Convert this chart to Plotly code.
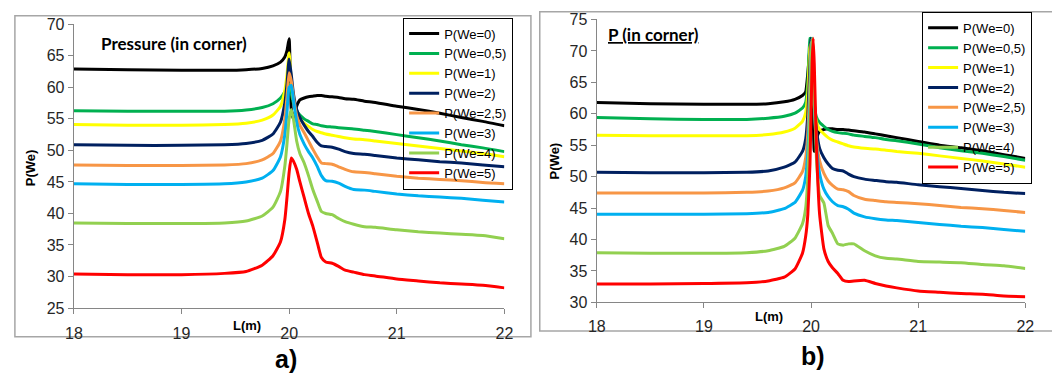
import plotly.graph_objects as go

W, H = 1052, 383

# ---------------- data: panel a) ----------------
L_a = [18.0, 18.5, 19.0, 19.4, 19.6, 19.75, 19.85, 19.92, 19.96, 19.98, 20.0, 20.02, 20.04, 20.07,
       20.1, 20.14, 20.18, 20.22, 20.26, 20.3, 20.34, 20.4, 20.46, 20.52, 20.6, 20.7, 20.8,
       21.0, 21.2, 21.4, 21.6, 21.8, 22.0]
a_we0 = [62.9, 62.8, 62.7, 62.7, 62.8, 63.0, 63.4, 64.0, 64.8, 65.8, 67.7, 56.5, 55.0, 57.0,
         58.0, 58.3, 58.5, 58.6, 58.7, 58.7, 58.6, 58.5, 58.4, 58.2, 58.1, 57.8, 57.6,
         57.0, 56.5, 55.9, 55.2, 54.6, 53.9]
a_we05 = [56.3, 56.2, 56.2, 56.2, 56.4, 56.8, 57.4, 58.3, 59.3, 60.0, 60.5, 59.0, 57.5, 56.3,
          55.6, 55.0, 54.6, 54.2, 54.1, 53.9, 53.8, 53.7, 53.6, 53.5, 53.4, 53.2, 53.0,
          52.5, 52.0, 51.5, 50.9, 50.4, 49.8]
a_we1 = [54.1, 54.0, 54.0, 54.1, 54.3, 54.8, 55.6, 57.0, 59.5, 62.0, 65.5, 61.0, 58.0, 56.0,
         55.0, 54.3, 53.8, 53.3, 53.0, 52.8, 52.6, 52.4, 52.2, 52.0, 51.8, 51.7, 51.5,
         51.1, 50.7, 50.3, 49.9, 49.5, 49.0]
a_we2 = [50.9, 50.8, 50.8, 50.9, 51.1, 51.6, 52.6, 54.5, 57.5, 60.5, 64.5, 62.0, 59.0, 56.5,
         55.2, 54.0, 53.0, 52.2, 51.3, 50.7, 50.6, 50.5, 50.2, 49.8, 49.5, 49.4, 49.2,
         48.8, 48.5, 48.2, 48.0, 47.7, 47.4]
a_we25 = [47.7, 47.6, 47.6, 47.7, 47.9, 48.5, 49.5, 51.5, 55.0, 58.5, 62.3, 61.0, 58.5, 55.5,
          54.0, 52.8, 51.5, 50.2, 49.0, 48.0, 47.9, 47.8, 47.4, 47.0, 46.6, 46.5, 46.3,
          45.9, 45.6, 45.4, 45.2, 44.9, 44.7]
a_we3 = [44.7, 44.6, 44.6, 44.7, 45.0, 45.6, 46.8, 49.0, 52.5, 56.0, 60.0, 60.3, 58.0, 54.5,
         52.5, 51.0, 49.8, 48.8, 47.5, 46.0, 45.2, 45.1, 44.8, 44.3, 43.8, 43.7, 43.5,
         43.1, 42.8, 42.6, 42.4, 42.1, 41.8]
a_we4 = [38.5, 38.4, 38.4, 38.5, 38.8, 39.6, 41.0, 43.5, 47.5, 51.0, 55.0, 56.5, 55.0, 51.5,
         49.5, 48.0, 46.0, 43.8, 42.0, 40.3, 40.0, 39.8, 39.2, 38.7, 38.3, 37.9, 37.8,
         37.4, 37.1, 36.9, 36.7, 36.5, 36.0]
a_we5 = [30.4, 30.3, 30.3, 30.5, 30.8, 31.8, 33.3, 35.5, 39.0, 42.5, 46.5, 48.8, 48.3, 47.0,
         45.0, 42.5, 40.0, 38.0, 35.5, 33.0, 32.3, 32.1, 31.6, 31.0, 30.7, 30.3, 30.1,
         29.6, 29.3, 29.0, 28.8, 28.6, 28.2]

# ---------------- data: panel b) ----------------
L_b = [18.0, 18.5, 19.0, 19.4, 19.6, 19.75, 19.85, 19.92, 19.95, 19.97, 19.99, 20.0, 20.01, 20.02,
       20.03, 20.05, 20.08, 20.12, 20.16, 20.2, 20.25, 20.3, 20.35, 20.4, 20.5, 20.6, 20.7,
       20.8, 21.0, 21.2, 21.4, 21.6, 21.8, 22.0]
b_we0 = [61.8, 61.6, 61.5, 61.5, 61.6, 61.9, 62.3, 62.9, 63.5, 66.5, 70.5, 71.5, 67.0, 60.0,
         54.0, 56.0, 57.2, 57.5, 57.6, 57.6, 57.5, 57.5, 57.4, 57.3, 57.1, 56.8, 56.5,
         56.2, 55.6, 55.0, 54.6, 54.1, 53.5, 52.9]
b_we05 = [59.4, 59.2, 59.1, 59.1, 59.3, 59.6, 60.1, 60.9, 61.8, 65.0, 72.0, 72.0, 68.0, 64.0,
          61.5, 59.5, 58.6, 58.0, 57.5, 57.2, 57.0, 56.9, 56.8, 56.6, 56.4, 56.2, 55.9,
          55.7, 55.2, 54.6, 54.1, 53.7, 53.2, 52.6]
b_we1 = [56.6, 56.5, 56.5, 56.5, 56.7, 57.1, 57.7, 58.8, 60.2, 63.5, 70.5, 71.0, 67.5, 63.5,
         61.0, 58.8, 57.5, 56.8, 56.2, 55.8, 55.5, 55.2, 54.9, 54.7, 54.5, 54.4, 54.2,
         54.0, 53.7, 53.3, 52.9, 52.5, 52.0, 51.5]
b_we2 = [50.7, 50.6, 50.6, 50.7, 50.9, 51.5, 52.3, 54.0, 56.0, 60.0, 68.0, 72.0, 70.0, 66.0,
         62.0, 57.5, 54.5, 53.0, 52.0, 51.3, 51.0, 50.9, 50.4, 50.0, 49.6, 49.4, 49.2,
         49.1, 48.7, 48.4, 48.1, 47.8, 47.5, 47.3]
b_we25 = [47.4, 47.4, 47.4, 47.5, 47.7, 48.2, 49.0, 50.8, 53.0, 57.0, 65.0, 71.0, 71.5, 67.0,
          62.0, 56.0, 52.5, 50.5, 49.3, 48.6, 48.0, 47.9, 47.6, 47.0, 46.4, 46.2, 46.0,
          45.9, 45.7, 45.4, 45.1, 44.9, 44.6, 44.3]
b_we3 = [44.0, 44.0, 44.0, 44.1, 44.3, 44.9, 45.9, 47.8, 50.0, 54.0, 62.0, 69.0, 72.0, 68.0,
         62.0, 55.0, 50.5, 48.0, 46.8, 46.0, 45.4, 45.2, 44.8, 44.2, 43.6, 43.3, 43.1,
         43.0, 42.7, 42.4, 42.1, 41.9, 41.6, 41.3]
b_we4 = [37.9, 37.8, 37.8, 37.9, 38.2, 38.9, 40.2, 42.5, 45.0, 50.0, 60.0, 68.0, 72.0, 70.0,
         64.0, 53.0, 47.0, 45.8, 42.2, 41.0, 39.3, 39.1, 39.3, 39.3, 38.2, 37.4, 37.0,
         36.9, 36.5, 36.4, 36.3, 36.0, 35.8, 35.4]
b_we5 = [32.9, 32.9, 33.0, 33.1, 33.4, 34.0, 35.3, 37.8, 40.5, 44.0, 52.0, 60.0, 68.0, 72.0,
         68.0, 55.0, 44.0, 38.5, 36.5, 35.5, 34.6, 33.5, 33.3, 33.4, 33.5, 33.0, 32.6,
         32.3, 31.8, 31.6, 31.4, 31.3, 31.0, 30.9]

names = ["P(We=0)", "P(We=0,5)", "P(We=1)", "P(We=2)", "P(We=2,5)", "P(We=3)", "P(We=4)", "P(We=5)"]
colors = ["#000000", "#00B050", "#FFFF00", "#002060", "#F79646", "#00B0F0", "#92D050", "#FF0000"]
series_a = [a_we0, a_we05, a_we1, a_we2, a_we25, a_we3, a_we4, a_we5]
series_b = [b_we0, b_we05, b_we1, b_we2, b_we25, b_we3, b_we4, b_we5]

fig = go.Figure()
for n, c, ys in zip(names, colors, series_a):
    fig.add_trace(go.Scatter(x=L_a, y=ys, name=n, mode="lines",
                             line=dict(color=c, width=3, shape="spline", smoothing=0.5),
                             xaxis="x", yaxis="y", legend="legend"))
for n, c, ys in zip(names, colors, series_b):
    fig.add_trace(go.Scatter(x=L_b, y=ys, name=n, mode="lines",
                             line=dict(color=c, width=3, shape="spline", smoothing=0.4),
                             xaxis="x2", yaxis="y2", legend="legend2"))

def px_x(p):
    return p / W

def px_y(p):
    return (H - p) / H

axis_common = dict(showline=True, linecolor="#868686", linewidth=1.3, ticks="outside", ticklen=5,
                   tickcolor="#868686", tickwidth=1.3, showgrid=False, zeroline=False,
                   tickfont=dict(family="Liberation Sans, Arial", size=16, color="#262626"))

fig.update_layout(
    width=W, height=H, margin=dict(l=0, r=0, t=0, b=0),
    paper_bgcolor="white", plot_bgcolor="white",
    xaxis=dict(domain=[px_x(66), px_x(504)], range=[18, 22], dtick=1, anchor="y",
               ticklabelstandoff=6, **axis_common),
    yaxis=dict(domain=[px_y(314), px_y(17)], range=[25, 70], dtick=5, anchor="x", **axis_common),
    xaxis2=dict(domain=[px_x(598), px_x(1034)], range=[18, 22], dtick=1, anchor="y2",
                ticklabelstandoff=4, **axis_common),
    yaxis2=dict(domain=[px_y(308), px_y(12)], range=[30, 75], dtick=5, anchor="x2", **axis_common),
    legend=dict(x=px_x(401), y=px_y(10), xanchor="left", yanchor="top",
                bgcolor="rgba(0,0,0,0)", bordercolor="#000000", borderwidth=1,
                font=dict(family="Liberation Sans, Arial", size=13, color="#000000"),
                tracegroupgap=0),
    legend2=dict(x=px_x(929), y=px_y(4), xanchor="left", yanchor="top",
                 bgcolor="rgba(0,0,0,0)", bordercolor="#000000", borderwidth=1,
                 font=dict(family="Liberation Sans, Arial", size=13, color="#000000"),
                 tracegroupgap=0),
    showlegend=True,
)

box = dict(type="rect", xref="paper", yref="paper", line=dict(color="#A6A6A6", width=1.5),
           fillcolor="rgba(0,0,0,0)", layer="below")
fig.add_shape(x0=px_x(6), x1=px_x(531), y0=px_y(344), y1=px_y(8), **box)
fig.add_shape(x0=px_x(540), x1=px_x(1062), y0=px_y(338), y1=px_y(4), **box)

def ann(text, x, y, size, bold=True, angle=0, family="Liberation Sans, Arial", xanchor="center"):
    fig.add_annotation(text=f"<b>{text}</b>" if bold else text, xref="paper", yref="paper",
                       x=px_x(x), y=px_y(y), xanchor=xanchor, yanchor="middle", showarrow=False,
                       textangle=angle, font=dict(family=family, size=size, color="#000000"))

ann("Pressure (in corner)", 92, 37, 17, family="Lato", xanchor="left")
ann("<u>P (in corner)</u>", 607, 28, 17, family="Lato", xanchor="left")
ann("P(We)", 22, 167, 13, angle=-90)
ann("P(We)", 555, 160, 13, angle=-90)
ann("L(m)", 242, 332, 13)
ann("L(m)", 773, 323, 13)
ann("a)", 282, 367, 25)
ann("b)", 818, 364, 25)

fig.write_html("out.html")
